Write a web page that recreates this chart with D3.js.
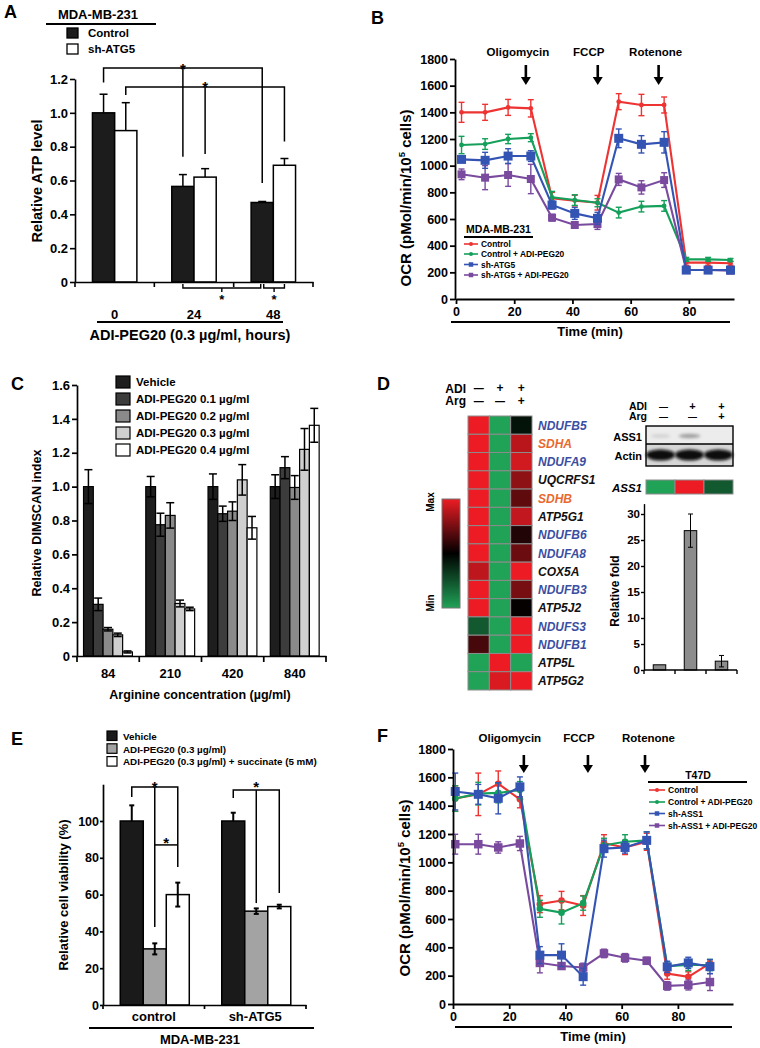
<!DOCTYPE html>
<html><head><meta charset="utf-8">
<script src="https://cdn.jsdelivr.net/npm/d3@7"></script>
<style>
body{margin:0;background:#fff;}
svg{display:block;}
</style></head><body>
<svg id="fig" width="760" height="1048"></svg>
<script>
// ---------------- Panel A data ----------------
const aTimes = ["0", "24", "48"];
const aSeries = ["Control", "sh-ATG5"];
const aControl = [1.00, 0.565, 0.47];
const aControlErr = [0.11, 0.07, 0.006];
const aShATG5 = [0.895, 0.62, 0.69];
const aShATG5Err = [0.165, 0.05, 0.04];
const aYTicks = [0, 0.2, 0.4, 0.6, 0.8, 1.0, 1.2];

// ---------------- Panel B data ----------------
const bTimes = [1.9, 10.0, 17.9, 25.7, 33.0, 40.8, 48.6, 55.9, 63.7, 71.5, 79.1, 86.6, 94.3];
const bControl = [1400, 1400, 1437, 1430, 755, 738, 722, 1480, 1455, 1455, 273, 273, 268];
const bControlErr = [75, 60, 60, 65, 45, 40, 55, 60, 80, 60, 20, 20, 15];
const bControlADI = [1155, 1162, 1200, 1210, 762, 742, 722, 648, 693, 698, 297, 297, 292];
const bControlADIErr = [65, 40, 35, 30, 45, 40, 30, 40, 40, 40, 15, 15, 12];
const bShATG5 = [1047, 1040, 1072, 1072, 705, 642, 605, 1205, 1160, 1175, 217, 217, 217];
const bShATG5Err = [20, 60, 55, 40, 30, 45, 45, 70, 65, 80, 15, 12, 12];
const bShATG5ADI = [935, 910, 930, 900, 610, 555, 562, 897, 837, 892, 217, 217, 212];
const bShATG5ADIErr = [40, 90, 85, 110, 25, 20, 40, 45, 50, 55, 10, 10, 10];
const bSeriesNames = ["Control", "Control + ADI-PEG20", "sh-ATG5", "sh-ATG5 + ADI-PEG20"];
const bInjectionTimes = [24.0, 48.7, 69.6];

// ---------------- shared OCR ----------------
const injectionNames = ["Oligomycin", "FCCP", "Rotenone"];
const ocrYTicks = [0, 200, 400, 600, 800, 1000, 1200, 1400, 1600, 1800];
const ocrXTicks = [0, 20, 40, 60, 80];

// ---------------- Panel C data ----------------
const cConcs = ["84", "210", "420", "840"];
const cDoseNames = ["Vehicle", "ADI-PEG20 0.1 µg/ml", "ADI-PEG20 0.2 µg/ml", "ADI-PEG20 0.3 µg/ml", "ADI-PEG20 0.4 µg/ml"];
const cVehicle = [1.0, 1.0, 1.0, 1.0];
const cVehicleErr = [0.10, 0.06, 0.075, 0.07];
const cADI01 = [0.305, 0.775, 0.84, 1.112];
const cADI01Err = [0.037, 0.068, 0.045, 0.065];
const cADI02 = [0.158, 0.83, 0.855, 0.995];
const cADI02Err = [0.01, 0.075, 0.055, 0.07];
const cADI03 = [0.125, 0.31, 1.04, 1.22];
const cADI03Err = [0.01, 0.02, 0.09, 0.123];
const cADI04 = [0.024, 0.278, 0.757, 1.362];
const cADI04Err = [0.006, 0.01, 0.067, 0.1];
const cYTicks = [0, 0.2, 0.4, 0.6, 0.8, 1.0, 1.2, 1.4, 1.6];

// ---------------- Panel D data ----------------
const dGenes = ["NDUFB5", "SDHA", "NDUFA9", "UQCRFS1", "SDHB", "ATP5G1", "NDUFB6", "NDUFA8", "COX5A", "NDUFB3", "ATP5J2", "NDUFS3", "NDUFB1", "ATP5L", "ATP5G2"];
const dADI = ["—", "+", "+"];
const dArg = ["—", "—", "+"];
const dExprCtrl = [1, 1, 1, 1, 1, 1, 1, 1, 0.8, 1, 1, -0.55, 0.3, -1, -1];
const dExprADI = [-1, -1, -1, -1, -1, -1, -1, -1, -1, -1, -1, -1, -1, 1, 0.92];
const dExprADIArg = [-0.12, 0.78, 0.88, 0.6, 0.4, 0.82, 0.14, 0.45, 1, 0.5, 0.02, 1, 1, -1, 1];
const dAss1Strip = [-1, 1, -0.55];
const dFold = [1.0, 26.8, 1.7];
const dFoldErr = [0, 3.2, 1.1];
const dFoldTicks = [0, 5, 10, 15, 20, 25, 30];

// ---------------- Panel E data ----------------
const eGroups = ["control", "sh-ATG5"];
const eTreatments = ["Vehicle", "ADI-PEG20 (0.3 µg/ml)", "ADI-PEG20 (0.3 µg/ml) + succinate (5 mM)"];
const eVehicle = [100, 100];
const eVehicleErr = [8.5, 4.5];
const eADI = [30.5, 51];
const eADIErr = [3, 1.5];
const eSuccinate = [60, 53.5];
const eSuccinateErr = [6.5, 1];
const eYTicks = [0, 20, 40, 60, 80, 100];

// ---------------- Panel F data ----------------
const fTimes = [0.8, 9.0, 16.1, 23.8, 30.9, 38.6, 46.3, 53.7, 61.2, 68.9, 76.2, 83.7, 91.4];
const fControl = [1450, 1480, 1555, 1445, 705, 730, 695, 1135, 1105, 1145, 215, 192, 287];
const fControlErr = [90, 150, 90, 60, 60, 65, 70, 60, 50, 60, 40, 35, 25];
const fControlADI = [1450, 1485, 1490, 1510, 672, 645, 712, 1120, 1145, 1155, 268, 275, 275];
const fControlADIErr = [90, 80, 70, 60, 60, 80, 50, 50, 50, 60, 30, 40, 40];
const fShASS1 = [1500, 1480, 1452, 1533, 345, 345, 193, 1097, 1105, 1155, 262, 290, 264];
const fShASS1Err = [130, 70, 110, 70, 60, 80, 60, 60, 40, 60, 40, 40, 50];
const fShASS1ADI = [1128, 1128, 1105, 1133, 290, 268, 258, 357, 326, 305, 128, 134, 155];
const fShASS1ADIErr = [70, 70, 40, 50, 70, 20, 30, 30, 30, 25, 30, 35, 60];
const fSeriesNames = ["Control", "Control + ADI-PEG20", "sh-ASS1", "sh-ASS1 + ADI-PEG20"];
const fInjectionTimes = [25.2, 48.0, 68.3];

// =================================================
const FONT = '"Liberation Sans", Arial, Helvetica, sans-serif';
const svg = d3.select("#fig").attr("font-family", FONT);
svg.append("rect").attr("width", 760).attr("height", 1048).attr("fill", "#fff");
const defs = svg.append("defs");

function styleAxis(gg, fs, sw = 1.6) {
  gg.attr("font-family", FONT).attr("font-size", fs).attr("font-weight", "bold");
  gg.selectAll(".domain").attr("stroke", "#000").attr("stroke-width", sw);
  gg.selectAll(".tick line").attr("stroke", "#000").attr("stroke-width", sw);
  gg.selectAll(".tick text").attr("fill", "#000");
}
function ln(g, x1, y1, x2, y2, sw = 1.5, c = "#000") {
  return g.append("line").attr("x1", x1).attr("y1", y1).attr("x2", x2).attr("y2", y2)
    .attr("stroke", c).attr("stroke-width", sw);
}
function tx(g, x, y, s, fs, o = {}) {
  const t = g.append("text").attr("x", x).attr("y", y).attr("font-size", fs)
    .attr("font-weight", o.fw || "bold").attr("fill", o.fill || "#000")
    .attr("text-anchor", o.a || "start").text(s);
  if (o.it) t.attr("font-style", "italic");
  return t;
}
function vtx(g, x, y, s, fs) {
  return g.append("text").attr("transform", `translate(${x},${y}) rotate(-90)`)
    .attr("text-anchor", "middle").attr("font-size", fs).attr("font-weight", "bold").text(s);
}
function star(g, cx, cy, fs = 15) { tx(g, cx, cy + 0.58 * fs, "*", fs, { a: "middle" }); }
function pathD(g, d, sw = 1.5) {
  return g.append("path").attr("d", d).attr("fill", "none").attr("stroke", "#000").attr("stroke-width", sw);
}
const fmt1 = d => d === 0 ? "0" : d3.format(".1f")(d);
const fmtInt = d3.format("d");

// Panel letters
[["A", 4, 18], ["B", 371, 24], ["C", 11, 390], ["D", 377, 390], ["E", 11, 745], ["F", 377, 742]]
  .forEach(([l, x, y]) => tx(svg, x, y, l, 18));

// ================= Panel A =================
(function () {
  const g = svg.append("g");
  const x = d3.scaleBand().domain(aTimes).range([75, 313]);
  const sub = d3.scaleBand().domain(aSeries).range([x.bandwidth() * 0.22, x.bandwidth() * 0.78]);
  const y = d3.scaleLinear().domain([0, 1.2]).range([282, 79]);
  const vals = [aControl, aShATG5], errs = [aControlErr, aShATG5Err];
  const fills = ["#1c1c1c", "#ffffff"];
  const cx = (t, s) => x(t) + sub(s) + sub.bandwidth() / 2;

  aSeries.forEach((s, si) => aTimes.forEach((t, ti) => {
    const v = vals[si][ti], e = errs[si][ti];
    g.append("rect").attr("x", x(t) + sub(s)).attr("y", y(v)).attr("width", sub.bandwidth())
      .attr("height", y(0) - y(v)).attr("fill", fills[si]).attr("stroke", "#000").attr("stroke-width", 1.5);
    const c = cx(t, s);
    ln(g, c, y(v), c, y(v + e), 1.5);
    ln(g, c - 4, y(v + e), c + 4, y(v + e), 1.5);
  }));

  const ya = g.append("g").attr("transform", "translate(75,0)")
    .call(d3.axisLeft(y).tickValues(aYTicks).tickFormat(fmt1).tickSize(5).tickSizeOuter(0).tickPadding(2));
  styleAxis(ya, 13);
  const xa = g.append("g").attr("transform", "translate(0,282)")
    .call(d3.axisBottom(x).tickSize(0).tickSizeOuter(0).tickPadding(27.5));
  styleAxis(xa, 13);
  d3.range(aTimes.length + 1).forEach(i => {
    const xx = x.range()[0] + i * x.step();
    ln(g, xx, 282, xx, 287, 1.6);
  });

  // significance brackets (top)
  pathD(g, `M${cx("0", "Control")},${y(1.18)}V${y(1.265)}H${cx("48", "Control")}V${y(0.585)}`);
  pathD(g, `M${cx("24", "Control")},${y(1.265)}V${y(0.74)}`);
  star(g, cx("24", "Control"), 65);
  pathD(g, `M${cx("0", "sh-ATG5")},${y(1.105)}V${y(1.152)}H${cx("48", "sh-ATG5")}V${y(0.83)}`);
  pathD(g, `M${cx("24", "sh-ATG5")},${y(1.152)}V${y(0.757)}`);
  star(g, cx("24", "sh-ATG5"), 83);
  // bottom brackets
  const b1 = [cx("24", "Control"), cx("48", "Control") - 1.5], b2 = [cx("48", "Control") + 1.5, cx("48", "sh-ATG5")];
  [b1, b2].forEach(([l, r]) => {
    pathD(g, `M${l},284V288H${r}V284`, 1.4);
    ln(g, (l + r) / 2, 288, (l + r) / 2, 292, 1.4);
    star(g, (l + r) / 2, 296, 13);
  });

  ln(g, 97, 322, 283, 322, 2);
  tx(g, 190, 340, "ADI-PEG20 (0.3 µg/ml, hours)", 14.5, { a: "middle" });
  vtx(g, 42, 181, "Relative ATP level", 14.5);

  // legend
  tx(g, 98, 18.5, "MDA-MB-231", 13, { a: "middle" });
  ln(g, 46, 24, 156, 24, 1.8);
  aSeries.forEach((s, i) => {
    g.append("rect").attr("x", 67).attr("y", 28 + i * 16).attr("width", 11).attr("height", 10)
      .attr("fill", fills[i]).attr("stroke", "#000").attr("stroke-width", 1.3);
    tx(g, 88, 37 + i * 16, s, 11.5);
  });
})();

// ================= OCR panels =================
const ocrStyles = [
  { c: "#ee3333", m: "circle" },
  { c: "#14a05a", m: "circle" },
  { c: "#3454b4", m: "square" },
  { c: "#7a4a9e", m: "square" }
];
function marker(g, st, px, py, size) {
  if (st.m === "circle") {
    g.append("circle").attr("cx", px).attr("cy", py).attr("r", size).attr("fill", st.c);
  } else {
    g.append("rect").attr("x", px - size / 2).attr("y", py - size / 2).attr("width", size).attr("height", size).attr("fill", st.c);
  }
}
function drawOCR(cfg) {
  const g = svg.append("g");
  const x = d3.scaleLinear().domain(cfg.xDomain).range(cfg.xRange);
  const y = d3.scaleLinear().domain([0, 1800]).range(cfg.yRange);

  // series (draw order: red, green, purple, blue)
  [0, 1, 3, 2].forEach(si => {
    const st = ocrStyles[si];
    const pts = cfg.times.map((t, i) => ({ t, v: cfg.values[si][i], e: cfg.errs[si][i] }));
    const sg = g.append("g");
    pts.forEach(p => {
      const px = x(p.t);
      ln(sg, px, y(p.v - p.e), px, y(p.v + p.e), 1.4, st.c);
      ln(sg, px - 3, y(p.v - p.e), px + 3, y(p.v - p.e), 1.4, st.c);
      ln(sg, px - 3, y(p.v + p.e), px + 3, y(p.v + p.e), 1.4, st.c);
    });
    sg.append("path").datum(pts).attr("d", d3.line().x(d => x(d.t)).y(d => y(d.v)))
      .attr("fill", "none").attr("stroke", st.c).attr("stroke-width", 2.1);
    pts.forEach(p => marker(sg, st, x(p.t), y(p.v), cfg.msize[si]));
  });

  const ya = g.append("g").attr("transform", `translate(${cfg.yAxisX},0)`)
    .call(d3.axisLeft(y).tickValues(ocrYTicks).tickFormat(fmtInt).tickSize(5).tickSizeOuter(0).tickPadding(2));
  styleAxis(ya, cfg.tickFs, 1.8);
  const xa = g.append("g").attr("transform", `translate(0,${cfg.yRange[0]})`)
    .call(d3.axisBottom(x).tickValues(ocrXTicks).tickFormat(fmtInt).tickSize(5).tickSizeOuter(0).tickPadding(3));
  styleAxis(xa, cfg.tickFs, 1.8);
  ln(g, cfg.yAxisX, cfg.yRange[0], cfg.xRange[0], cfg.yRange[0], 1.8);

  ln(g, cfg.ul[0], cfg.ul[2], cfg.ul[1], cfg.ul[2], 2);
  tx(g, cfg.titleX, cfg.titleY, "Time (min)", 13, { a: "middle" });

  const yt = g.append("text").attr("transform", `translate(${cfg.yTitleX},${cfg.yTitleY}) rotate(-90)`)
    .attr("text-anchor", "middle").attr("font-size", 15).attr("font-weight", "bold");
  yt.append("tspan").text("OCR (pMol/min/10");
  yt.append("tspan").attr("dy", -6).attr("font-size", 9.5).text("5");
  yt.append("tspan").attr("dy", 6).text(" cells)");

  injectionNames.forEach((n, i) => {
    const ax = x(cfg.injTimes[i]);
    ln(g, ax, cfg.arrowY[0], ax, cfg.arrowY[1] - 7, 2.6);
    g.append("path").attr("d", `M${ax - 5},${cfg.arrowY[1] - 8}L${ax + 5},${cfg.arrowY[1] - 8}L${ax},${cfg.arrowY[1]}Z`).attr("fill", "#000");
    tx(g, ax + cfg.labelOff[i], cfg.labelY, n, 11.5, { a: "middle" });
  });

  // legend
  const L = cfg.legend;
  tx(g, L.titleX, L.titleY, L.title, L.titleFs, { a: "middle" });
  ln(g, L.ulX[0], L.ulY, L.ulX[1], L.ulY, 1.8);
  cfg.names.forEach((n, i) => {
    const st = ocrStyles[i];
    ln(g, L.lineX[0], L.rows[i], L.lineX[1], L.rows[i], 1.6, st.c);
    marker(g, st, (L.lineX[0] + L.lineX[1]) / 2, L.rows[i], st.m === "circle" ? 2 : 4.5);
    tx(g, L.textX, L.rows[i] + L.fs * 0.36, n, L.fs);
  });
}

drawOCR({
  xDomain: [0, 95.5], xRange: [456, 734], yRange: [299, 59], yAxisX: 455, tickFs: 12.5,
  times: bTimes,
  values: [bControl, bControlADI, bShATG5, bShATG5ADI],
  errs: [bControlErr, bControlADIErr, bShATG5Err, bShATG5ADIErr],
  names: bSeriesNames, msize: [2.4, 2.4, 9, 8],
  injTimes: bInjectionTimes, arrowY: [65, 85], labelY: 56, labelOff: [-8, -9, -3],
  ul: [451, 730, 322], titleX: 590, titleY: 336, yTitleX: 411, yTitleY: 198,
  legend: { title: "MDA-MB-231", titleX: 498.5, titleY: 233, titleFs: 10.5, ulX: [464, 533], ulY: 237,
    rows: [244, 254, 264.5, 275], lineX: [464, 478], textX: 481, fs: 8.4 }
});
drawOCR({
  xDomain: [0, 99.6], xRange: [453, 733], yRange: [1004, 749], yAxisX: 453, tickFs: 12.5,
  times: fTimes,
  values: [fControl, fControlADI, fShASS1, fShASS1ADI],
  errs: [fControlErr, fControlADIErr, fShASS1Err, fShASS1ADIErr],
  names: fSeriesNames, msize: [3.3, 3.3, 9, 8.5],
  injTimes: fInjectionTimes, arrowY: [755, 773], labelY: 742, labelOff: [-14, -9, 3.5],
  ul: [455, 732, 1027], titleX: 593, titleY: 1041, yTitleX: 410, yTitleY: 888,
  legend: { title: "T47D", titleX: 698, titleY: 778.5, titleFs: 10.5, ulX: [648, 747], ulY: 782,
    rows: [790, 802, 813.5, 825.5], lineX: [649, 665], textX: 668, fs: 8.5 }
});

// ================= Panel C =================
(function () {
  const g = svg.append("g");
  const x = d3.scaleBand().domain(cConcs).range([77, 326]);
  const sub = d3.scaleBand().domain(cDoseNames).range([x.bandwidth() * 0.105, x.bandwidth() * 0.89]);
  const y = d3.scaleLinear().domain([0, 1.6]).range([656, 385]);
  const vals = [cVehicle, cADI01, cADI02, cADI03, cADI04];
  const errs = [cVehicleErr, cADI01Err, cADI02Err, cADI03Err, cADI04Err];
  const fills = ["#1e1e1e", "#3c3c3c", "#8a8a8a", "#cfcfcf", "#ffffff"];
  cDoseNames.forEach((s, si) => cConcs.forEach((c, ci) => {
    const v = vals[si][ci], e = errs[si][ci];
    const x0 = x(c) + sub(s), bw = sub.bandwidth(), mid = x0 + bw / 2;
    g.append("rect").attr("x", x0).attr("y", y(v)).attr("width", bw).attr("height", y(0) - y(v))
      .attr("fill", fills[si]).attr("stroke", "#000").attr("stroke-width", 1.2);
    ln(g, mid, y(v - e), mid, y(v + e), 1.5);
    ln(g, mid - 4, y(v + e), mid + 4, y(v + e), 1.5);
    ln(g, mid - 4, y(v - e), mid + 4, y(v - e), 1.5);
  }));
  const ya = g.append("g").attr("transform", "translate(77,0)")
    .call(d3.axisLeft(y).tickValues(cYTicks).tickFormat(fmt1).tickSize(5).tickSizeOuter(0).tickPadding(2));
  styleAxis(ya, 13, 1.7);
  const xa = g.append("g").attr("transform", "translate(0,656)")
    .call(d3.axisBottom(x).tickSize(0).tickSizeOuter(0).tickPadding(12.8));
  styleAxis(xa, 13, 1.7);
  d3.range(cConcs.length + 1).forEach(i => {
    const xx = x.range()[0] + i * x.step();
    ln(g, xx, 656, xx, 662, 1.7);
  });
  tx(g, 200, 699, "Arginine concentration (µg/ml)", 12.5, { a: "middle" });
  vtx(g, 41, 523, "Relative DIMSCAN index", 12.6);
  cDoseNames.forEach((n, i) => {
    g.append("rect").attr("x", 116).attr("y", 376 + i * 17).attr("width", 14).attr("height", 12)
      .attr("fill", fills[i]).attr("stroke", "#000").attr("stroke-width", 1.2);
    tx(g, 136, 386 + i * 17, n, 11.5);
  });
})();

// ================= Panel D =================
(function () {
  const g = svg.append("g");
  const col = d3.scaleLinear().domain([-1, 0, 1]).range(["#20a257", "#000000", "#ed1c24"]);
  const hx = d3.scaleBand().domain([0, 1, 2]).range([468, 532]);
  const hy = d3.scaleBand().domain(dGenes).range([416, 690]);
  const cols = [dExprCtrl, dExprADI, dExprADIArg];
  cols.forEach((arr, ci) => dGenes.forEach((gname, ri) => {
    g.append("rect").attr("x", hx(ci)).attr("y", hy(gname)).attr("width", hx.bandwidth()).attr("height", hy.bandwidth())
      .attr("fill", col(arr[ri])).attr("stroke", "#8c8c8c").attr("stroke-width", 1);
  }));
  dGenes.forEach(gname => {
    const c = gname.startsWith("NDUF") ? "#3a4ea2" : gname.startsWith("SDH") ? "#e8692d" : "#111";
    tx(g, 538, hy(gname) + hy.bandwidth() / 2 + 4.5, gname, 12, { it: true, fill: c });
  });
  tx(g, 466, 393, "ADI", 12, { a: "end" });
  tx(g, 466, 405, "Arg", 12, { a: "end" });
  [0, 1, 2].forEach(i => {
    const cx = hx(i) + hx.bandwidth() / 2;
    tx(g, cx, 392, dADI[i], dADI[i] === "+" ? 12 : 10, { a: "middle" });
    tx(g, cx, 405, dArg[i], dArg[i] === "+" ? 12 : 10, { a: "middle" });
  });
  // colour bar
  const grad = defs.append("linearGradient").attr("id", "hmgrad").attr("x1", 0).attr("y1", 0).attr("x2", 0).attr("y2", 1);
  [[0, "#ed1c24"], [0.5, "#000000"], [1, "#20a257"]].forEach(([o, c]) => grad.append("stop").attr("offset", o).attr("stop-color", c));
  g.append("rect").attr("x", 442).attr("y", 499).attr("width", 18).attr("height", 109)
    .attr("fill", "url(#hmgrad)").attr("stroke", "#777").attr("stroke-width", 1);
  vtx(g, 434, 502, "Max", 10);
  vtx(g, 434, 603, "Min", 10);

  // Western blot
  const lx = d3.scaleBand().domain([0, 1, 2]).range([646, 733]);
  const blur = defs.append("filter").attr("id", "bblur").attr("x", "-20%").attr("y", "-50%").attr("width", "140%").attr("height", "200%");
  blur.append("feGaussianBlur").attr("stdDeviation", 1.4);
  g.append("rect").attr("x", 646).attr("y", 426).attr("width", 87).attr("height", 18).attr("fill", "#ececec");
  g.append("rect").attr("x", 646).attr("y", 444).attr("width", 87).attr("height", 22).attr("fill", "#d6d6d6");
  g.append("ellipse").attr("cx", lx(0) + lx.bandwidth() / 2).attr("cy", 436).attr("rx", 10).attr("ry", 2)
    .attr("fill", "#d4d4d4").attr("filter", "url(#bblur)");
  g.append("ellipse").attr("cx", lx(1) + lx.bandwidth() / 2).attr("cy", 436).attr("rx", 11).attr("ry", 2.2)
    .attr("fill", "#a0a0a0").attr("filter", "url(#bblur)");
  [0, 1, 2].forEach(i => {
    g.append("ellipse").attr("cx", lx(i) + lx.bandwidth() / 2).attr("cy", 455).attr("rx", 14.5).attr("ry", 5.5)
      .attr("fill", "#080808").attr("filter", "url(#bblur)");
  });
  g.append("rect").attr("x", 646).attr("y", 426).attr("width", 87).attr("height", 40)
    .attr("fill", "none").attr("stroke", "#000").attr("stroke-width", 1.4);
  ln(g, 646, 444, 733, 444, 1.4);
  tx(g, 642, 441, "ASS1", 11, { a: "end" });
  tx(g, 642, 460, "Actin", 11, { a: "end" });
  tx(g, 647, 410, "ADI", 10.5, { a: "end" });
  tx(g, 647, 420, "Arg", 10.5, { a: "end" });
  [0, 1, 2].forEach(i => {
    const cx = lx(i) + lx.bandwidth() / 2 + 3;
    tx(g, cx, 410, dADI[i], dADI[i] === "+" ? 11 : 9, { a: "middle" });
    tx(g, cx, 420, dArg[i], dArg[i] === "+" ? 11 : 9, { a: "middle" });
  });
  // ASS1 strip
  tx(g, 642, 492, "ASS1", 11.5, { a: "end", it: true });
  dAss1Strip.forEach((v, i) => {
    g.append("rect").attr("x", lx(i)).attr("y", 480).attr("width", lx.bandwidth()).attr("height", 14)
      .attr("fill", col(v)).attr("stroke", "#8c8c8c").attr("stroke-width", 1);
  });
  // qPCR bar chart
  const fx = d3.scaleBand().domain([0, 1, 2]).range([644, 737]);
  const fy = d3.scaleLinear().domain([0, 32]).range([670, 503.6]);
  dFold.forEach((v, i) => {
    const mid = fx(i) + fx.bandwidth() / 2, bw = 12.5;
    g.append("rect").attr("x", mid - bw / 2).attr("y", fy(v)).attr("width", bw).attr("height", fy(0) - fy(v))
      .attr("fill", "#8c8c8c").attr("stroke", "#000").attr("stroke-width", 1);
    if (dFoldErr[i] > 0) {
      const e = dFoldErr[i];
      ln(g, mid, fy(v - e), mid, fy(v + e), 1);
      ln(g, mid - 2.5, fy(v - e), mid + 2.5, fy(v - e), 1);
      ln(g, mid - 2.5, fy(v + e), mid + 2.5, fy(v + e), 1);
    }
  });
  const fya = g.append("g").attr("transform", "translate(644,0)")
    .call(d3.axisLeft(fy).tickValues(dFoldTicks).tickSize(3).tickSizeOuter(0).tickPadding(1));
  styleAxis(fya, 11.5, 1.4);
  ln(g, 644, 670, 737, 670, 1.6);
  d3.range(4).forEach(i => ln(g, 644 + i * fx.step(), 670, 644 + i * fx.step(), 674, 1.4));
  vtx(g, 619, 591, "Relative fold", 12);
})();

// ================= Panel E =================
(function () {
  const g = svg.append("g");
  const x = d3.scaleBand().domain(eGroups).range([103, 306]);
  const sub = d3.scaleBand().domain(eTreatments).range([x.bandwidth() * 0.17, x.bandwidth() * 0.85]);
  const y = d3.scaleLinear().domain([0, 120]).range([1005, 784.2]);
  const vals = [eVehicle, eADI, eSuccinate], errs = [eVehicleErr, eADIErr, eSuccinateErr];
  const fills = ["#1a1a1a", "#a3a3a3", "#ffffff"];
  const cx = (gr, t) => x(gr) + sub(t) + sub.bandwidth() / 2;
  eTreatments.forEach((t, ti) => eGroups.forEach((gr, gi) => {
    const v = vals[ti][gi], e = errs[ti][gi];
    g.append("rect").attr("x", x(gr) + sub(t)).attr("y", y(v)).attr("width", sub.bandwidth()).attr("height", y(0) - y(v))
      .attr("fill", fills[ti]).attr("stroke", "#000").attr("stroke-width", 1.5);
    const m = cx(gr, t);
    const lo = ti === 0 ? v : v - e;
    ln(g, m, y(lo), m, y(v + e), 2);
    ln(g, m - 2.5, y(v + e), m + 2.5, y(v + e), 2);
    if (ti > 0) ln(g, m - 2.5, y(v - e), m + 2.5, y(v - e), 2);
  }));
  const ya = g.append("g").attr("transform", "translate(103,0)")
    .call(d3.axisLeft(y).tickValues(eYTicks).tickSize(3).tickSizeOuter(0).tickPadding(1));
  styleAxis(ya, 12.5, 1.7);
  const xa = g.append("g").attr("transform", "translate(0,1005)")
    .call(d3.axisBottom(x).tickSize(0).tickSizeOuter(0).tickPadding(6.8));
  styleAxis(xa, 13, 1.7);
  d3.range(eGroups.length + 1).forEach(i => {
    const xx = x.range()[0] + i * x.step();
    ln(g, xx, 1005, xx, 1009, 1.7);
  });
  // brackets
  const T = eTreatments;
  pathD(g, `M${cx("control", T[0])},${y(113)}V${y(118.5)}H${cx("control", T[2])}V${y(75)}`);
  pathD(g, `M${cx("control", T[1])},${y(118.5)}V${y(42.4)}`);
  star(g, cx("control", T[1]), 783);
  pathD(g, `M${cx("control", T[1])},${y(87)}H${cx("control", T[2])}`);
  star(g, (cx("control", T[1]) + cx("control", T[2])) / 2, 839.5);
  pathD(g, `M${cx("sh-ATG5", T[0])},${y(112.5)}V${y(116.8)}H${cx("sh-ATG5", T[2])}V${y(60.9)}`);
  pathD(g, `M${cx("sh-ATG5", T[1])},${y(116.8)}V${y(55.4)}`);
  star(g, cx("sh-ATG5", T[1]), 783.5);

  ln(g, 89, 1028, 314, 1028, 1.8);
  tx(g, 200, 1044, "MDA-MB-231", 13, { a: "middle" });
  vtx(g, 68, 895, "Relative cell viability (%)", 13);
  eTreatments.forEach((n, i) => {
    g.append("rect").attr("x", 107).attr("y", 731 + i * 12.8).attr("width", 10).attr("height", 9.5)
      .attr("fill", fills[i]).attr("stroke", "#000").attr("stroke-width", 1.2);
    tx(g, 123, 740 + i * 12.7, n, 9.8);
  });
})();
</script>
</body></html>
